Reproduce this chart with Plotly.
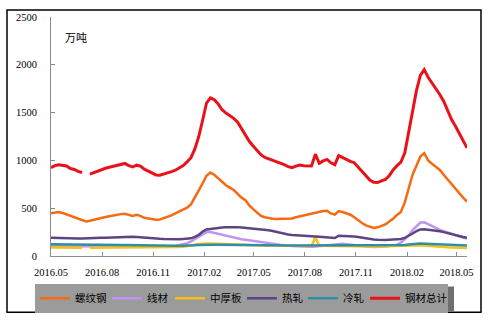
import plotly.graph_objects as go
import pandas as pd

# ---------------- data ----------------
start_date = "2016-05-01"
n_weeks = 108
dates = pd.date_range(start_date, periods=n_weeks, freq="7D")

tick_dates = ["2016-05-01", "2016-08-01", "2016-11-01", "2017-02-01", "2017-05-01",
              "2017-08-01", "2017-11-01", "2018-02-01", "2018-05-01"]
tick_labels = ["2016.05", "2016.08", "2016.11", "2017.02", "2017.05",
               "2017.08", "2017.11", "2018.02", "2018.05"]
y_ticks = [0, 500, 1000, 1500, 2000, 2500]

series_names = ["螺纹钢", "线材", "中厚板", "热轧", "冷轧", "钢材总计"]

rebar = [448, 455, 459, 450, 435, 420, 400, 388, 375, 362,
         368, 380, 390, 398, 408, 415, 425, 432, 438, 442,
         432, 418, 430, 420, 400, 392, 385, 380, 382, 395,
         407, 425, 445, 465, 485, 505, 540, 610, 680, 760,
         840, 873, 850, 810, 770, 740, 715, 690, 650, 610,
         585, 530, 490, 455, 420, 405, 395, 390, 388, 388,
         388, 390, 392, 405, 415, 425, 432, 440, 450, 460,
         470, 472, 445, 432, 470, 460, 445, 432, 405, 370,
         345, 320, 303, 293, 300, 312, 330, 360, 390, 430,
         460, 560, 720, 850, 945, 1040, 1075, 1000, 965, 935,
         900, 850, 800, 750, 700, 650, 610, 569]

wire = [102, 102, 101, 101, 100, 100, 99, 99, 98, 98,
        98, 98, 99, 99, 100, 100, 101, 101, 102, 102,
        102, 101, 100, 99, 98, 97, 96, 96, 96, 97,
        98, 100, 104, 112, 122, 135, 152, 175, 200, 228,
        250, 252, 242, 230, 218, 208, 198, 190, 183, 176,
        170, 164, 158, 150, 142, 135, 128, 122, 117, 112,
        108, 106, 104, 102, 100, 98, 97, 98, 100, 104,
        110, 116, 121, 125, 128, 127, 123, 118, 112, 106,
        101, 98, 96, 95, 95, 97, 100, 105, 110, 118,
        140, 175, 215, 270, 315, 350, 352, 335, 315, 295,
        272, 258, 243, 228, 215, 204, 193, 183]

plate = [88, 88, 87, 87, 86, 86, 85, 85, 85, None,
         86, 86, 87, 87, 88, 88, 89, 89, 90, 90,
         90, 91, 91, 90, 89, 88, 87, 86, 86, 86,
         87, 88, 90, 93, 97, 102, 108, 118, 126, 130,
         131, 130, 128, 126, 124, 122, 120, 118, 117, 116,
         115, 114, 113, 112, 111, 110, 109, 108, 107, 106,
         105, 104, 104, 103, 103, 104, 105, 106, 195, 106,
         105, 105, 106, 107, 108, 107, 106, 105, 104, 103,
         102, 101, 100, 100, 100, 101, 102, 103, 104, 105,
         107, 110, 113, 115, 115, 113, 110, 106, 102, 99,
         96, 94, 92, 90, 88, 86, 85, 84]

hot = [190, 188, 187, 186, 185, 183, 182, 182, 183, 183,
       184, 186, 188, 190, 192, 194, 196, 197, 198, 199,
       200, 201, 200, 196, 190, 186, 183, 182, 180, 178,
       176, 174, 173, 175, 178, 182, 185, 200, 220, 255,
       278, 283, 290, 295, 298, 300, 302, 303, 302, 298,
       294, 292, 290, 282, 278, 273, 270, 262, 252, 242,
       232, 225, 220, 216, 212, 210, 207, 205, 203, 201,
       198, 195, 192, 188, 212, 212, 210, 208, 205, 198,
       190, 184, 178, 173, 170, 167, 168, 170, 172, 174,
       178, 190, 210, 235, 260, 278, 280, 276, 272, 265,
       258, 250, 238, 228, 218, 208, 198, 190]

cold = [122, 122, 121, 121, 120, 120, 119, 119, 118, 118,
        118, 117, 117, 117, 116, 116, 115, 115, 115, 114,
        114, 113, 113, 112, 112, 111, 110, 110, 109, 108,
        108, 107, 107, 106, 106, 106, 108, 112, 116, 118,
        119, 119, 118, 118, 118, 117, 117, 117, 116, 116,
        116, 115, 115, 114, 114, 113, 113, 112, 112, 112,
        111, 111, 111, 110, 110, 110, 110, 110, 110, 110,
        110, 110, 110, 109, 109, 110, 110, 110, 109, 109,
        108, 108, 108, 108, 107, 107, 107, 108, 108, 109,
        110, 114, 120, 126, 129, 130, 129, 128, 127, 126,
        125, 123, 121, 119, 117, 115, 113, 111]

total = [924, 945, 955, 948, 942, 915, 905, 885, 873, None,
         856, 872, 890, 905, 918, 928, 940, 952, 959, 968,
         945, 931, 950, 940, 908, 885, 862, 848, 845, 855,
         872, 882, 897, 920, 945, 985, 1028, 1120, 1250, 1420,
         1600, 1655, 1635, 1590, 1530, 1495, 1465, 1440, 1400, 1330,
         1260, 1200, 1150, 1100, 1060, 1030, 1015, 1005, 990, 975,
         955, 935, 925, 940, 952, 945, 942, 942, 1065, 970,
         995, 1010, 975, 955, 1050, 1030, 1005, 990, 976, 930,
         885, 830, 795, 772, 768, 785, 800, 840, 900, 945,
         983, 1080, 1300, 1530, 1730, 1890, 1949, 1870, 1810, 1760,
         1690, 1620, 1520, 1430, 1360, 1280, 1200, 1131]

# ---------------- style ----------------
colors = ["#f56a12", "#bf94f2", "#f5c01a", "#5b4682", "#2f8fa3", "#e8121b"]
widths = [2.5, 2.5, 2.5, 2.5, 2.5, 3]
legend_widths = [27, 18, 27, 16, 17, 38]

W, H = 490, 325
L, R, T, B = 51, 23, 14, 69
pw, ph = W - L - R, H - T - B


def px(x):
    return (x - L) / pw


def py(y):
    return (H - B - y) / ph


fig = go.Figure()
for name, vals, c, w, lw in zip(series_names, [rebar, wire, plate, hot, cold, total],
                                colors, widths, legend_widths):
    fig.add_trace(go.Scatter(x=dates, y=vals, name=name, mode="lines",
                             line=dict(color=c, width=w), connectgaps=False,
                             legendwidth=lw))

axis_col = "#8c8c8c"
leg_left, leg_top = 35, 284
leg_w, leg_h = 416, 25
fig.update_layout(
    width=W, height=H,
    margin=dict(l=L, r=R, t=T, b=B),
    paper_bgcolor="white", plot_bgcolor="white",
    showlegend=True,
    legend=dict(orientation="h", x=px(leg_left), y=py(leg_top), xanchor="left", yanchor="top",
                bgcolor="#9b9b9b", borderwidth=0,
                font=dict(family="Noto Sans CJK SC", size=10.5, color="black"),
                itemwidth=30, tracegroupgap=0),
    xaxis=dict(type="date", range=[dates[0], dates[-1]], tickvals=tick_dates, ticktext=tick_labels,
               ticks="inside", ticklen=4, tickcolor=axis_col, showline=True, linecolor=axis_col,
               linewidth=1, showgrid=False, zeroline=False, ticklabelstandoff=6,
               tickfont=dict(family="Liberation Serif", size=10.5, color="black")),
    yaxis=dict(range=[0, 2500], tickvals=y_ticks, ticks="inside", ticklen=4, tickcolor=axis_col,
               showline=True, linecolor=axis_col, linewidth=1, showgrid=False, zeroline=False,
               ticklabelstandoff=11,
               tickfont=dict(family="Liberation Serif", size=10.5, color="black")),
    annotations=[dict(text="万吨", xref="paper", yref="paper", x=px(63), y=py(34),
                      xanchor="left", yanchor="middle", showarrow=False,
                      font=dict(family="Noto Sans CJK SC", size=11, color="black"))],
    shapes=[
        dict(type="rect", xref="paper", yref="paper", x0=px(7), x1=px(481), y0=py(313), y1=py(7),
             line=dict(color="black", width=1.5), fillcolor="rgba(0,0,0,0)", layer="below"),
        dict(type="rect", xref="paper", yref="paper",
             x0=px(leg_left + 3), x1=px(leg_left + leg_w + 3),
             y0=py(leg_top + leg_h + 3), y1=py(leg_top + 3),
             line=dict(width=0), fillcolor="#6f6f6f", layer="below"),
    ],
)

fig.write_html("out.html")
